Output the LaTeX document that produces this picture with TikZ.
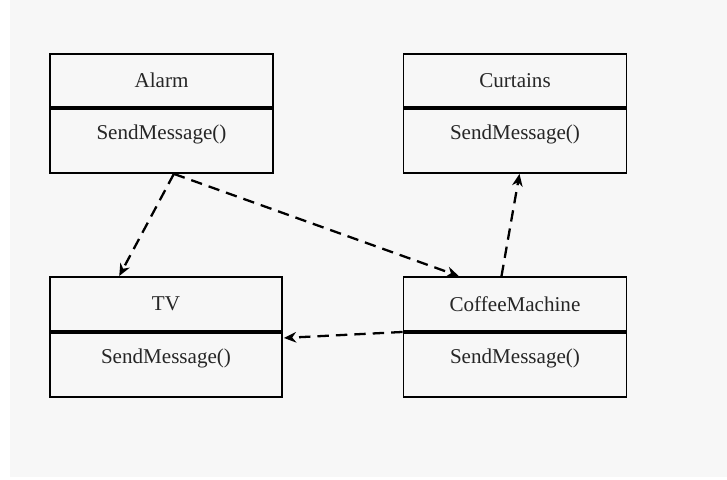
\documentclass[tikz,border=0pt]{standalone}
\usepackage{fontspec}
\setmainfont{Liberation Serif}
\usetikzlibrary{calc,arrows.meta}
\definecolor{bggray}{HTML}{F7F7F7}

\begin{document}
\begin{tikzpicture}[x=0.02cm, y=-0.02cm,
    namebox/.style={draw=black, line width=1.1pt, minimum width=4.46cm, minimum height=1.06cm, inner sep=0pt, font=\fontsize{12}{14}\selectfont, text=black!85},
    methodbox/.style={draw=black, line width=1.1pt, minimum width=4.46cm, inner xsep=0pt, inner ysep=0.25cm, text height=0.37cm, text depth=0.41cm, font=\fontsize{12}{14}\selectfont, text=black!85},
    msg/.style={line width=1.3pt, dash pattern=on 6.5pt off 4pt, -{Stealth[length=7pt, width=6pt]}}]

    \fill[white] (0,0) rectangle (727,480);
    \fill[bggray] (10,0) rectangle (727,477);

    \node[namebox] (alarm) at (161.5,80.5) {Alarm};
    \node[methodbox, anchor=north] (alarmm) at (alarm.south) {SendMessage()};

    \node[namebox] (curtains) at (515,80.5) {Curtains};
    \node[methodbox, anchor=north] (curtainsm) at (curtains.south) {SendMessage()};

    \node[namebox, minimum width=4.64cm, minimum height=1.08cm] (tv) at (166,304) {TV};
    \node[methodbox, minimum width=4.64cm, anchor=north] (tvm) at (tv.south) {SendMessage()};

    \node[namebox, minimum height=1.08cm] (coffee) at (515,304) {CoffeeMachine};
    \node[methodbox, anchor=north] (coffeem) at (coffee.south) {SendMessage()};

    \draw[msg] ($(alarmm.south west)!0.555!(alarmm.south east)$) -- ($(tv.north west)!0.30!(tv.north east)$);
    \draw[msg] ($(alarmm.south west)!0.555!(alarmm.south east)$) -- ($(coffee.north west)!0.25!(coffee.north east)$);
    \draw[msg] ($(coffee.north west)!0.44!(coffee.north east)$) -- ($(curtainsm.south west)!0.52!(curtainsm.south east)$);
    \draw[msg] (coffee.south west) -- ($(tvm.north east)+(1,6)$);

\end{tikzpicture}
\end{document}
